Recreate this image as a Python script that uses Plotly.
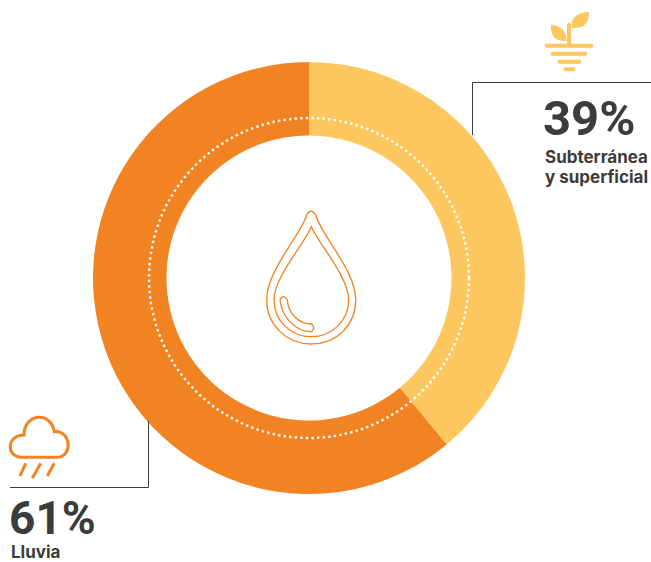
import plotly.graph_objects as go

categories = ["Subterránea y superficial", "Lluvia"]
values = [39, 61]
colors = ["#FDC760", "#F28322"]
DARK = "#3C3C3B"
W, H = 651, 562
CX, CY, R_OUT, R_IN, R_DOT = 309, 278, 216, 142.5, 160


def bar(x0, x1, y, h=4):
    r = h / 2
    return (f"M{x0+r},{y-r} L{x1-r},{y-r} Q{x1+r*0.4},{y} {x1-r},{y+r} "
            f"L{x0+r},{y+r} Q{x0-r*0.4},{y} {x0+r},{y-r} Z")


fig = go.Figure(go.Pie(
    labels=categories, values=values, sort=False, direction="clockwise", rotation=0,
    hole=R_IN / R_OUT, textinfo="none", showlegend=False, hoverinfo="label+percent",
    marker=dict(colors=colors, line=dict(width=0)),
    domain=dict(x=[(CX - R_OUT) / W, (CX + R_OUT) / W],
                y=[1 - (CY + R_OUT) / H, 1 - (CY - R_OUT) / H]),
))

shapes = [
    # dotted ring
    dict(type="circle", x0=CX - R_DOT, x1=CX + R_DOT, y0=CY - R_DOT, y1=CY + R_DOT,
         line=dict(color="white", width=2.4, dash="2.4px,3.2px")),
    # leader lines
    dict(type="path", path="M472.5,135 L472.5,82.5 L651,82.5", line=dict(color=DARK, width=1)),
    dict(type="path", path="M148.5,421 L148.5,487.5 L10,487.5", line=dict(color=DARK, width=1)),
]
# drop icon
for p in [
    "M306.7,215 Q311,207.3 315.7,215 C321.7,236.7 355.7,270 355.7,300 C355.7,325 336.7,344 311,344 "
    "C286.7,344 266.7,325 266.7,300 C266.7,270 300,236.7 306.7,215 Z",
    "M311.3,226.7 C318.3,243.3 348.7,276.7 348.7,300 C348.7,320.7 331.7,336.7 311.3,336.7 "
    "C290.7,336.7 274,320.7 274,300 C274,276.7 305,243.3 311.3,226.7 Z",
    "M280,300 C281.7,316.7 295,331.7 311.7,331.7 Q315.7,328.3 311.7,324 "
    "C298.3,324 288.3,313.3 287.3,300 Q283.3,293.3 280,300 Z",
]:
    shapes.append(dict(type="path", path=p, line=dict(color=colors[1], width=1.3)))
# plant icon
for p in [
    bar(544, 594, 45.7), bar(550, 588, 53.7), bar(557, 582, 61.7), bar(563, 576, 69.3),
    "M567,45 L567,24 Q569,21 571,24 L571,45 Z",
    "M551,25 C560,25 567,31 566.5,41 C556,42 550,36 551,25 Z",
    "M589,12 C589,22 585,29 572,28 C570,18 578,12 589,12 Z",
]:
    shapes.append(dict(type="path", path=p, fillcolor=colors[0], line=dict(width=0)))
# rain icon
shapes.append(dict(type="path",
                   path="M21.7,457.3 C6,457.3 6,435 24,435 C24,423 32,417.3 39.3,417.3 "
                        "C46.7,417.3 53.3,423.3 54.3,431.7 C71.7,430 73,457.3 56.7,457.3 Z",
                   line=dict(color=colors[1], width=3)))
for p in ["M25.7,463.3 L20,476", "M40.7,463.3 L32.3,478.3", "M54.3,463.3 L47.3,476"]:
    shapes.append(dict(type="path", path=p, line=dict(color=colors[1], width=3)))

annotations = []
for txt, x, y, size, fam in [
    ("39%", 543, 118, 49, "Roboto"), ("Subterránea", 545, 157, 17, "Inter"), ("y superficial", 545, 177, 17, "Inter"),
    ("61%", 9, 518, 46, "Roboto"), ("Lluvia", 11, 552, 17, "Inter"),
]:
    annotations.append(dict(text=f"<b>{txt}</b>", x=x, y=y, xref="x", yref="y", xanchor="left",
                            yanchor="middle", showarrow=False, borderpad=0, borderwidth=0,
                            font=dict(family=fam, size=size, color=DARK)))

fig.update_layout(
    width=W, height=H, margin=dict(l=0, r=0, t=0, b=0), autosize=False,
    paper_bgcolor="white", plot_bgcolor="rgba(0,0,0,0)",
    xaxis=dict(range=[0, W], visible=False, domain=[0, 1], fixedrange=True),
    yaxis=dict(range=[H, 0], visible=False, domain=[0, 1], fixedrange=True),
    shapes=shapes, annotations=annotations,
)
fig.add_trace(go.Scatter(x=[None], y=[None], showlegend=False, hoverinfo="skip"))
fig.write_html("out.html", config=dict(displayModeBar=False),
               post_script="document.body.style.margin='0';document.body.style.overflow='hidden';")
